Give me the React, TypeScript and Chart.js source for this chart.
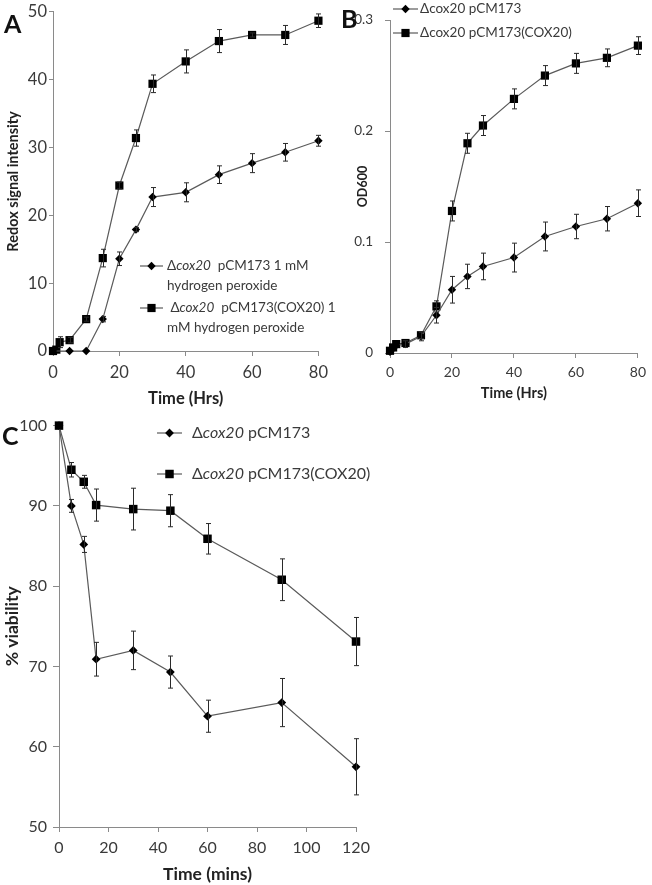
import React, { useEffect, useRef } from "react";
import { Chart, registerables } from "chart.js";

Chart.register(...registerables);

// ---------- Panel A data ----------
const aTimeDiamond = [0, 5, 10, 15, 20, 25, 30, 40, 50, 60, 70, 80];
const aDiamond = [0, 0, 0, 4.7, 13.6, 17.9, 22.7, 23.4, 26.0, 27.7, 29.3, 31.0];
const aDiamondErr = [0, 0, 0, 0.4, 1.0, 0.3, 1.4, 1.4, 1.3, 1.4, 1.3, 0.8];
const aTimeSquare = [0, 1, 2, 5, 10, 15, 20, 25, 30, 40, 50, 60, 70, 80];
const aSquare = [0, 0.2, 1.3, 1.6, 4.7, 13.7, 24.4, 31.4, 39.4, 42.7, 45.7, 46.6, 46.6, 48.7];
const aSquareErr = [0, 0, 0.8, 0.4, 0.3, 1.3, 0.5, 1.2, 1.3, 1.7, 1.7, 0.3, 1.4, 1.0];
const aXTicks = [0, 20, 40, 60, 80];
const aYTicks = [0, 10, 20, 30, 40, 50];

// ---------- Panel B data ----------
const bTime = [0, 1, 2, 5, 10, 15, 20, 25, 30, 40, 50, 60, 70, 80];
const bDiamond = [0.001, 0.004, 0.007, 0.008, 0.015, 0.034, 0.057, 0.069, 0.078, 0.086, 0.105, 0.114, 0.121, 0.135];
const bDiamondErr = [0, 0, 0, 0.003, 0.004, 0.007, 0.012, 0.011, 0.012, 0.013, 0.013, 0.011, 0.011, 0.012];
const bSquare = [0.002, 0.005, 0.008, 0.009, 0.016, 0.042, 0.128, 0.189, 0.205, 0.229, 0.250, 0.261, 0.266, 0.277];
const bSquareErr = [0, 0, 0, 0, 0.003, 0.005, 0.009, 0.009, 0.009, 0.009, 0.009, 0.009, 0.008, 0.008];
const bXTicks = [0, 20, 40, 60, 80];
const bYTicks = [0, 0.1, 0.2, 0.3];

// ---------- Panel C data ----------
const cTime = [0, 5, 10, 15, 30, 45, 60, 90, 120];
const cDiamond = [100, 90.0, 85.2, 70.9, 72.0, 69.3, 63.8, 65.5, 57.5];
const cDiamondErr = [0, 0.8, 1.0, 2.1, 2.4, 2.0, 2.0, 3.0, 3.5];
const cSquare = [100, 94.5, 93.0, 90.1, 89.6, 89.4, 85.9, 80.8, 73.1];
const cSquareErr = [0, 0.9, 0.8, 2.0, 2.6, 2.0, 1.9, 2.6, 3.0];
const cXTicks = [0, 20, 40, 60, 80, 100, 120];
const cYTicks = [50, 60, 70, 80, 90, 100];

const FONT = "Lato, 'Open Sans', sans-serif";
const AXIS_COLOR = "#8a8a8a";
const TEXT_COLOR = "#3a3a3a";
const LINE_COLOR = "#5a5a5a";

const errorBarPlugin = {
  id: "errorBars",
  afterDatasetsDraw(chart: any) {
    const ctx = chart.ctx;
    const xs = chart.scales.x;
    const ys = chart.scales.y;
    ctx.save();
    ctx.strokeStyle = "#2a2a2a";
    ctx.lineWidth = 1;
    chart.data.datasets.forEach((ds: any) => {
      const errs: number[] = ds.errors || [];
      ds.data.forEach((p: any, i: number) => {
        const e = errs[i] || 0;
        if (!e) return;
        const px = Math.round(xs.getPixelForValue(p.x)) + 0.5;
        const y1 = ys.getPixelForValue(p.y + e);
        const y2 = ys.getPixelForValue(p.y - e);
        ctx.beginPath();
        ctx.moveTo(px, y1);
        ctx.lineTo(px, y2);
        ctx.moveTo(px - 2.5, y1);
        ctx.lineTo(px + 2.5, y1);
        ctx.moveTo(px - 2.5, y2);
        ctx.lineTo(px + 2.5, y2);
        ctx.stroke();
      });
    });
    ctx.restore();
  },
};

type Seg = { t: string; italic?: boolean };
type LegendItem = { style: string; x: number; y: number; lines: Seg[][]; lineGap: number; lineW: number; r: number; textX: number };

function drawMarker(ctx: CanvasRenderingContext2D, style: string, cx: number, cy: number, r: number) {
  ctx.fillStyle = "#000";
  ctx.beginPath();
  if (style === "rect") {
    const s = r * Math.SQRT1_2;
    ctx.rect(cx - s, cy - s, 2 * s, 2 * s);
  } else {
    ctx.moveTo(cx - r, cy);
    ctx.lineTo(cx, cy - r);
    ctx.lineTo(cx + r, cy);
    ctx.lineTo(cx, cy + r);
    ctx.closePath();
  }
  ctx.fill();
}

function makeLegendPlugin(items: LegendItem[], size: number) {
  return {
    id: "customLegend",
    afterDraw(chart: any) {
      const ctx: CanvasRenderingContext2D = chart.ctx;
      ctx.save();
      items.forEach((it) => {
        ctx.strokeStyle = LINE_COLOR;
        ctx.lineWidth = 1.2;
        ctx.beginPath();
        ctx.moveTo(it.x, it.y);
        ctx.lineTo(it.x + it.lineW, it.y);
        ctx.stroke();
        drawMarker(ctx, it.style, it.x + it.lineW / 2, it.y, it.r);
        ctx.fillStyle = TEXT_COLOR;
        ctx.textBaseline = "middle";
        ctx.textAlign = "left";
        it.lines.forEach((line, li) => {
          let x = it.textX;
          const y = it.y + li * it.lineGap;
          line.forEach((seg) => {
            ctx.font = `${seg.italic ? "italic " : ""}${size}px ${FONT}`;
            ctx.fillText(seg.t, x, y);
            x += ctx.measureText(seg.t).width;
          });
        });
      });
      ctx.restore();
    },
  };
}

function tickSetter(values: number[]) {
  return (scale: any) => {
    scale.ticks = values.map((v) => ({ value: v }));
  };
}

function makeAxis(opts: {
  min: number; max: number; ticks: number[]; fontSize: number; tickPad: number; tickLen: number;
  title: string; titleSize: number; titlePad: any; fit: number; horizontal: boolean; fmt?: (v: number) => string;
}) {
  return {
    type: "linear",
    min: opts.min,
    max: opts.max,
    afterBuildTicks: tickSetter(opts.ticks),
    afterFit: (scale: any) => {
      if (opts.horizontal) scale.height = opts.fit;
      else scale.width = opts.fit;
    },
    grid: {
      drawOnChartArea: false,
      drawTicks: true,
      tickLength: opts.tickLen,
      color: AXIS_COLOR,
    },
    border: { display: true, color: AXIS_COLOR, width: 1 },
    ticks: {
      padding: opts.tickPad,
      color: TEXT_COLOR,
      font: { family: FONT, size: opts.fontSize },
      maxRotation: 0,
      callback: opts.fmt ? (v: any) => opts.fmt!(Number(v)) : (v: any) => String(v),
    },
    title: {
      display: true,
      text: opts.title,
      color: "#222",
      padding: opts.titlePad,
      font: { family: FONT, size: opts.titleSize, weight: "bold" },
    },
  };
}

function series(xs: number[], ys: number[], errs: number[], style: string, r: number) {
  return {
    data: xs.map((x, i) => ({ x, y: ys[i] })),
    errors: errs,
    borderColor: LINE_COLOR,
    borderWidth: 1.2,
    pointStyle: style,
    pointRadius: r,
    pointBackgroundColor: "#000",
    pointBorderColor: "#000",
    pointBorderWidth: 0,
    showLine: true,
    fill: false,
    tension: 0,
    clip: false,
  };
}

function useChart(ref: React.RefObject<HTMLCanvasElement>, build: () => any) {
  useEffect(() => {
    if (!ref.current) return;
    const chart = new Chart(ref.current, build());
    return () => chart.destroy();
  }, []);
}

export default function App() {
  const refA = useRef<HTMLCanvasElement>(null);
  const refB = useRef<HTMLCanvasElement>(null);
  const refC = useRef<HTMLCanvasElement>(null);

  // Panel A
  useChart(refA as any, () => ({
    type: "line",
    data: {
      datasets: [
        series(aTimeDiamond, aDiamond, aDiamondErr, "rectRot", 4.2),
        series(aTimeSquare, aSquare, aSquareErr, "rect", 5.8),
      ],
    },
    options: {
      responsive: false,
      animation: false,
      events: [],
      layout: { padding: { top: 9, right: 5, left: 0, bottom: 0 } },
      plugins: { legend: { display: false }, tooltip: { enabled: false } },
      scales: {
        x: makeAxis({ min: 0, max: 80, ticks: aXTicks, fontSize: 16.5, tickPad: 7, tickLen: 5, title: "Time (Hrs)", titleSize: 16.5, titlePad: { top: 0, bottom: 1 }, fit: 59, horizontal: true }),
        y: makeAxis({ min: 0, max: 50, ticks: aYTicks, fontSize: 16.5, tickPad: 2, tickLen: 4, title: "Redox signal intensity", titleSize: 14.5, titlePad: { top: 5, bottom: 0 }, fit: 53, horizontal: false }),
      },
    },
    plugins: [
      errorBarPlugin,
      makeLegendPlugin(
        [
          { style: "rectRot", x: 140, y: 266, lineW: 23, r: 4.2, textX: 167, lineGap: 20, lines: [[{ t: "Δ" }, { t: "cox20", italic: true }, { t: "  pCM173 1 mM" }], [{ t: "hydrogen peroxide" }]] },
          { style: "rect", x: 140, y: 308, lineW: 23, r: 5.8, textX: 167, lineGap: 20, lines: [[{ t: " Δ" }, { t: "cox20", italic: true }, { t: "  pCM173(COX20) 1" }], [{ t: "mM hydrogen peroxide" }]] },
        ],
        13.5
      ),
    ],
  }));

  // Panel B
  useChart(refB as any, () => ({
    type: "line",
    data: {
      datasets: [
        series(bTime, bDiamond, bDiamondErr, "rectRot", 4.2),
        series(bTime, bSquare, bSquareErr, "rect", 5.8),
      ],
    },
    options: {
      responsive: false,
      animation: false,
      events: [],
      layout: { padding: { top: 8, right: 10, left: 0, bottom: 0 } },
      plugins: { legend: { display: false }, tooltip: { enabled: false } },
      scales: {
        x: makeAxis({ min: 0, max: 80, ticks: bXTicks, fontSize: 14, tickPad: 6, tickLen: 5, title: "Time (Hrs)", titleSize: 14.5, titlePad: { top: 0, bottom: 8 }, fit: 57, horizontal: true }),
        y: makeAxis({ min: 0, max: 0.3, ticks: bYTicks, fontSize: 13.5, tickPad: 12, tickLen: 5, title: "OD600", titleSize: 12.5, titlePad: { top: 20, bottom: 0 }, fit: 55, horizontal: false, fmt: (v) => (v === 0 ? "0" : String(Math.round(v * 10) / 10)) }),
      },
    },
    plugins: [
      errorBarPlugin,
      makeLegendPlugin(
        [
          { style: "rectRot", x: 58, y: 9, lineW: 25, r: 4.2, textX: 85, lineGap: 20, lines: [[{ t: "Δcox20 pCM173" }]] },
          { style: "rect", x: 58, y: 33, lineW: 25, r: 5.8, textX: 85, lineGap: 20, lines: [[{ t: "Δcox20 pCM173(COX20)" }]] },
        ],
        13.5
      ),
    ],
  }));

  // Panel C
  useChart(refC as any, () => ({
    type: "line",
    data: {
      datasets: [
        series(cTime, cDiamond, cDiamondErr, "rectRot", 4.4),
        series(cTime, cSquare, cSquareErr, "rect", 6),
      ],
    },
    options: {
      responsive: false,
      animation: false,
      events: [],
      layout: { padding: { top: 13, right: 296, left: 0, bottom: 0 } },
      plugins: { legend: { display: false }, tooltip: { enabled: false } },
      scales: {
        x: makeAxis({ min: 0, max: 120, ticks: cXTicks, fontSize: 16, tickPad: 6, tickLen: 5, title: "Time (mins)", titleSize: 17.5, titlePad: { top: 0, bottom: 0.5 }, fit: 58, horizontal: true }),
        y: makeAxis({ min: 50, max: 100, ticks: cYTicks, fontSize: 16, tickPad: 6, tickLen: 6, title: "% viability", titleSize: 17.5, titlePad: { top: 1.5, bottom: 0 }, fit: 59, horizontal: false }),
      },
    },
    plugins: [
      errorBarPlugin,
      makeLegendPlugin(
        [
          { style: "rectRot", x: 157, y: 23, lineW: 25, r: 4.4, textX: 192, lineGap: 20, lines: [[{ t: "Δ" }, { t: "cox20", italic: true }, { t: " pCM173" }]] },
          { style: "rect", x: 157, y: 64, lineW: 25, r: 6, textX: 192, lineGap: 20, lines: [[{ t: "Δ" }, { t: "cox20", italic: true }, { t: " pCM173(COX20)" }]] },
        ],
        16
      ),
    ],
  }));

  const letter: React.CSSProperties = {
    position: "absolute",
    fontFamily: FONT,
    fontWeight: 700,
    fontSize: 25,
    lineHeight: "25px",
    color: "#111",
  };

  return (
    <div style={{ position: "absolute", left: 0, top: 0, width: 652, height: 885, background: "#fff", overflow: "hidden" }}>
      <canvas ref={refA} width={335} height={410} style={{ position: "absolute", left: 0, top: 0, width: 335, height: 410 }} />
      <canvas ref={refB} width={317} height={410} style={{ position: "absolute", left: 335, top: 0, width: 317, height: 410 }} />
      <canvas ref={refC} width={652} height={475} style={{ position: "absolute", left: 0, top: 410, width: 652, height: 475 }} />
      <div style={{ ...letter, left: 4, top: 11 }}>A</div>
      <div style={{ ...letter, left: 341, top: 6 }}>B</div>
      <div style={{ ...letter, left: 2, top: 423 }}>C</div>
    </div>
  );
}
